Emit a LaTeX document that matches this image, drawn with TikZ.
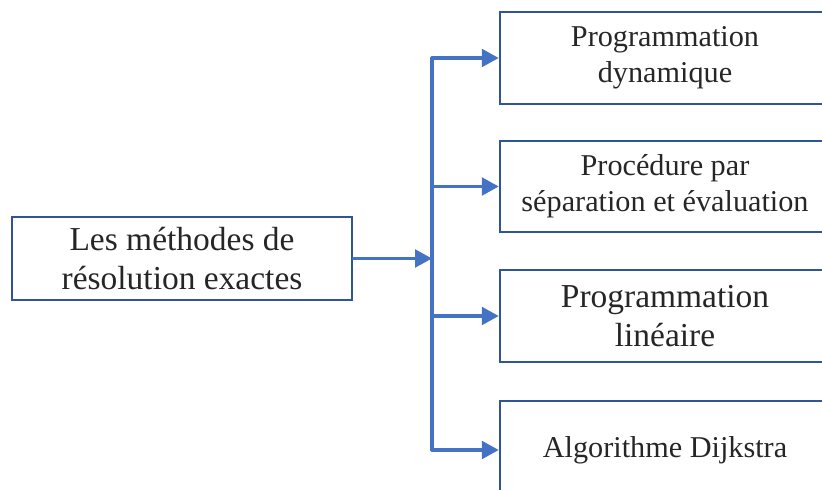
\documentclass[tikz,border=0pt]{standalone}
\usepackage{fontspec}
\setmainfont{Liberation Serif}
\usetikzlibrary{arrows.meta}
\definecolor{boxblue}{RGB}{47,85,151}
\definecolor{linkblue}{RGB}{68,114,196}
\begin{document}
\begin{tikzpicture}[x=0.025cm,y=-0.025cm,
        main/.style = {draw=boxblue, line width=1.7pt, rectangle, align=center, inner sep=0pt, text=black!85},
        small/.style = {font=\fontsize{21.5}{25.5}\selectfont},
        big/.style = {font=\fontsize{23.8}{28}\selectfont},
        link/.style = {draw=linkblue, line width=2.3pt, line join=round, line cap=round},
        arr/.style = {link, -{Triangle[length=12pt,width=12.5pt]}}]
        \useasboundingbox (0,0) rectangle (822,490);
        \clip (0,0) rectangle (822,490);
        \node[main, big, minimum width=8.5cm, minimum height=2.075cm] (src) at (182,258.5) {Les méthodes de\\résolution exactes};
        \node[main, small, minimum width=8.25cm, minimum height=2.3cm] (p1) at (665,58) {Programmation\\dynamique};
        \node[main, small, minimum width=8.25cm, minimum height=2.275cm] (p2) at (665,186.5) {Procédure par\\séparation et évaluation};
        \node[main, big, minimum width=8.25cm, minimum height=2.3cm] (p3) at (665,316) {Programmation\\linéaire};
        \node[main, small, minimum width=8.25cm, minimum height=2.45cm] (p4) at (665,450) {Algorithme Dijkstra};
        \coordinate (bus) at (432,0);
        \draw[link] (bus |- p1.west) -- (bus |- p4.west);
        \draw[arr] (src.east) -- (src.east -| bus);
        \draw[arr] (bus |- p1.west) -- (p1.west);
        \draw[arr] (bus |- p2.west) -- (p2.west);
        \draw[arr] (bus |- p3.west) -- (p3.west);
        \draw[arr] (bus |- p4.west) -- (p4.west);
\end{tikzpicture}
\end{document}
